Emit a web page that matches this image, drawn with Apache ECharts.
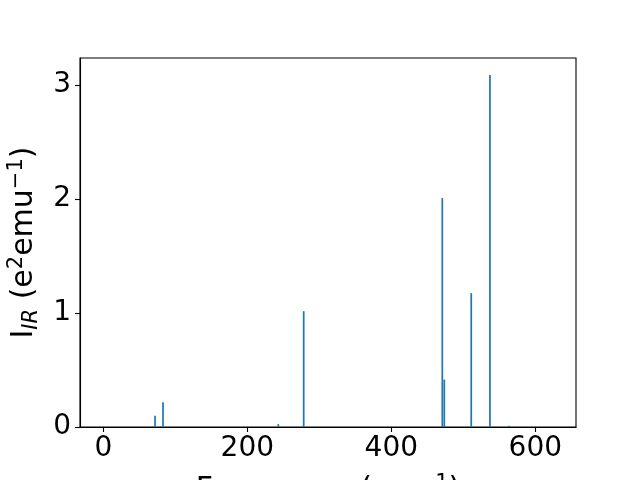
<!DOCTYPE html>
<html>
<head>
<meta charset="utf-8">
<script src="https://cdn.jsdelivr.net/npm/echarts@6/dist/echarts.min.js"></script>
<style>html,body{margin:0;padding:0;background:#fff}#c{width:640px;height:480px}</style>
</head>
<body>
<div id="c"></div>
<script>
const frequencies = [71.8, 82.9, 243.0, 278.3, 470.8, 473.6, 511.0, 537.0, 563.5];
const intensities = [0.099, 0.217, 0.025, 1.016, 2.008, 0.416, 1.174, 3.088, 0.012];
const xTicks = [0, 200, 400, 600];
const yTicks = [0, 1, 2, 3];

const data = frequencies.map((f, i) => [f, intensities[i]]);
const font = 'DejaVu Sans';
const chart = echarts.init(document.getElementById('c'), null, {renderer: 'canvas'});
chart.setOption({
  animation: false,
  backgroundColor: '#fff',
  grid: {left: 80, right: 64, top: 58, bottom: 53, containLabel: false, outerBoundsMode: 'none', show: true, borderColor: '#000', borderWidth: 1.1, backgroundColor: 'transparent'},
  xAxis: {
    type: 'value', min: -32.4, max: 656.5,
    splitLine: {show: false},
    axisLine: {show: true, onZero: false, lineStyle: {color: '#000', width: 1.1}},
    axisTick: {show: true, inside: false, length: 5, lineStyle: {color: '#000', width: 1.1}, customValues: xTicks},
    axisLabel: {color: '#000', fontFamily: font, fontSize: 28, margin: 8, customValues: xTicks},
    name: '{t|Frequency (cm}{s|−1}{t|)}',
    nameLocation: 'middle', nameGap: 46,
    nameTextStyle: {rich: {
      t: {fontFamily: font, fontSize: 30, color: '#000', lineHeight: 34},
      s: {fontFamily: font, fontSize: 21, color: '#000', verticalAlign: 'top', lineHeight: 34}
    }}
  },
  yAxis: {
    type: 'value', min: 0, max: 3.237,
    splitLine: {show: false},
    axisLine: {show: true, onZero: false, lineStyle: {color: '#000', width: 1.1}},
    axisTick: {show: true, inside: false, length: 5, lineStyle: {color: '#000', width: 1.1}, customValues: yTicks},
    axisLabel: {color: '#000', fontFamily: font, fontSize: 28, margin: 9, customValues: yTicks},
    name: '{t|I}{b|IR}{t| (e}{s|2}{t|emu}{s|−1}{t|)}',
    nameLocation: 'middle', nameRotate: 90, nameGap: 38,
    nameTextStyle: {rich: {
      t: {fontFamily: font, fontSize: 30, color: '#000', lineHeight: 36},
      b: {fontFamily: font, fontSize: 21, fontStyle: 'italic', color: '#000', verticalAlign: 'bottom', lineHeight: 36},
      s: {fontFamily: font, fontSize: 21, color: '#000', verticalAlign: 'top', lineHeight: 36}
    }}
  },
  series: [{
    type: 'custom',
    data: data,
    clip: true,
    renderItem: function (params, api) {
      const x = api.value(0), y = api.value(1), w = 2.4;
      const p1 = api.coord([x - w / 2, y]);
      const p2 = api.coord([x + w / 2, 0]);
      return {type: 'rect', shape: {x: p1[0], y: p1[1], width: p2[0] - p1[0], height: p2[1] - p1[1]}, style: {fill: '#1f77b4'}};
    }
  }]
});
</script>
</body>
</html>
